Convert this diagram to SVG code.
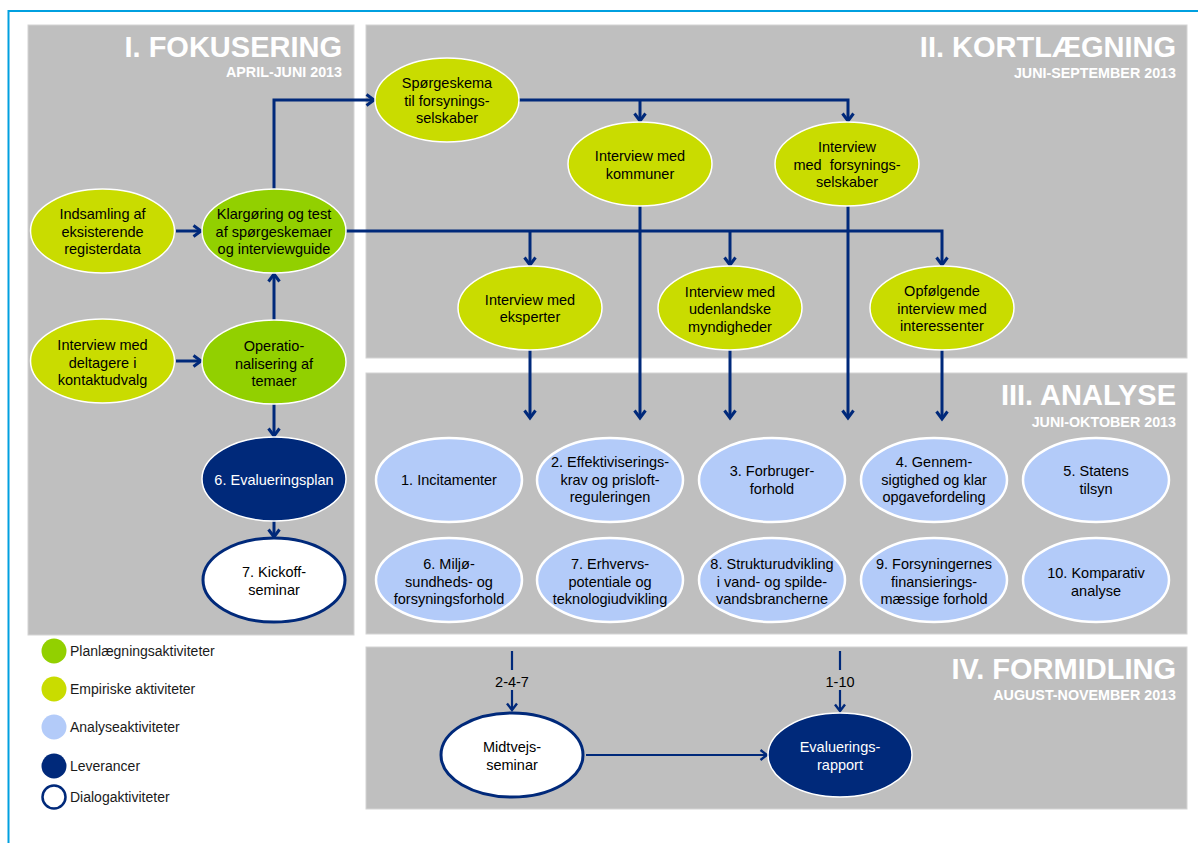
<svg xmlns="http://www.w3.org/2000/svg" width="1198" height="843" viewBox="0 0 1198 843">
<style>
text{font-family:"Liberation Sans",Arial,sans-serif}
.panel{fill:#bfbfbf;stroke:#d4d4d4;stroke-width:1}
.title{font-size:29px;font-weight:bold;fill:#fff;text-anchor:end}
.sub{font-size:14.3px;font-weight:bold;fill:#fff;text-anchor:end}
.t{font-size:14.5px;text-anchor:middle;fill:#000}
.w{fill:#fff}
.lg{font-size:14px;fill:#1a1a1a}
.emp{fill:#c9dc00;stroke:#fff;stroke-width:1.5}
.plan{fill:#92d000;stroke:#fff;stroke-width:1.5}
.ana{fill:#b3cbf9;stroke:#fff;stroke-width:2.5}
.lev{fill:#00297a;stroke:#fff;stroke-width:1.5}
.dia{fill:#fff;stroke:#00297a;stroke-width:3}
.conn{fill:none;stroke:#00297a;stroke-width:3}
.thin{fill:none;stroke:#00297a;stroke-width:2.2}
</style>
<defs>
<marker id="ah" markerUnits="userSpaceOnUse" markerWidth="14" markerHeight="14" viewBox="0 0 14 14" refX="11.5" refY="7" orient="auto">
<path d="M4,1.5 L11.5,7 L4,12.5" fill="none" stroke="#00297a" stroke-width="3"/>
</marker>
<marker id="ah2" markerUnits="userSpaceOnUse" markerWidth="14" markerHeight="14" viewBox="0 0 14 14" refX="11.5" refY="7" orient="auto">
<path d="M5,2 L11.5,7 L5,12" fill="none" stroke="#00297a" stroke-width="2.4"/>
</marker>
</defs>
<rect x="0" y="0" width="1198" height="843" fill="#fff"/>
<path d="M8.5,843 V11 H1198" fill="none" stroke="#00a0e0" stroke-width="2"/>

<g id="panels">
<rect class="panel" x="28" y="25" width="326" height="610"/>
<rect class="panel" x="366" y="25" width="821" height="333"/>
<rect class="panel" x="366" y="373" width="821" height="261"/>
<rect class="panel" x="366" y="647" width="821" height="162"/>
<text class="title" x="342" y="57">I. FOKUSERING</text>
<text class="sub" x="342" y="77">APRIL-JUNI 2013</text>
<text class="title" x="1176" y="57">II. KORTLÆGNING</text>
<text class="sub" x="1176" y="78">JUNI-SEPTEMBER 2013</text>
<text class="title" x="1176" y="405">III. ANALYSE</text>
<text class="sub" x="1176" y="427">JUNI-OKTOBER 2013</text>
<text class="title" x="1176" y="679">IV. FORMIDLING</text>
<text class="sub" x="1176" y="700">AUGUST-NOVEMBER 2013</text>
</g>

<g id="connectors">
<path class="conn" d="M176,231 H201" marker-end="url(#ah)"/>
<path class="conn" d="M274,189 V100 H374" marker-end="url(#ah)"/>
<path class="conn" d="M176,361 H201" marker-end="url(#ah)"/>
<path class="conn" d="M274,320 V274" marker-end="url(#ah)"/>
<path class="conn" d="M274,404 V436" marker-end="url(#ah)"/>
<path class="conn" d="M274,521 V537" marker-end="url(#ah)"/>
<path class="conn" d="M519,100 H848 V121" marker-end="url(#ah)"/>
<path class="conn" d="M640,100 V121" marker-end="url(#ah)"/>
<path class="conn" d="M346,231 H942 V265" marker-end="url(#ah)"/>
<path class="conn" d="M530,231 V265" marker-end="url(#ah)"/>
<path class="conn" d="M730,231 V265" marker-end="url(#ah)"/>
<path class="conn" d="M530,350 V418" marker-end="url(#ah)"/>
<path class="conn" d="M640,206 V418" marker-end="url(#ah)"/>
<path class="conn" d="M730,350 V418" marker-end="url(#ah)"/>
<path class="conn" d="M848,206 V418" marker-end="url(#ah)"/>
<path class="conn" d="M942,350 V419" marker-end="url(#ah)"/>
<path class="thin" d="M512,651 V670"/>
<path class="thin" d="M512,690 V710" marker-end="url(#ah2)"/>
<path class="thin" d="M840,651 V670"/>
<path class="thin" d="M840,690 V711" marker-end="url(#ah2)"/>
<path class="thin" d="M586,755 H767" marker-end="url(#ah2)"/>
<text class="t" x="512" y="687" font-size="14">2-4-7</text>
<text class="t" x="840" y="687" font-size="14">1-10</text>
</g>

<g id="n-indsamling"><ellipse class="emp" cx="102.5" cy="231" rx="72" ry="42"/>
<text class="t" x="102.5" y="219">Indsamling af</text><text class="t" x="102.5" y="236.5">eksisterende</text><text class="t" x="102.5" y="254">registerdata</text></g>
<g id="n-klargoring"><ellipse class="plan" cx="274" cy="231" rx="72" ry="42"/>
<text class="t" x="274" y="219">Klargøring og test</text><text class="t" x="274" y="236.5">af spørgeskemaer</text><text class="t" x="274" y="254">og interviewguide</text></g>
<g id="n-deltagere"><ellipse class="emp" cx="102.5" cy="361" rx="72" ry="42"/>
<text class="t" x="102.5" y="350">Interview med</text><text class="t" x="102.5" y="367.5">deltagere i</text><text class="t" x="102.5" y="385">kontaktudvalg</text></g>
<g id="n-operationalisering"><ellipse class="plan" cx="274" cy="362" rx="72" ry="42"/>
<text class="t" x="274" y="351">Operatio-</text><text class="t" x="274" y="368.5">nalisering af</text><text class="t" x="274" y="386">temaer</text></g>
<g id="n-evalueringsplan"><ellipse class="lev" cx="274" cy="479" rx="72" ry="42"/>
<text class="t w" x="274" y="484.5">6. Evalueringsplan</text></g>
<g id="n-kickoff"><ellipse class="dia" cx="274" cy="580" rx="71" ry="42"/>
<text class="t" x="274" y="577">7. Kickoff-</text><text class="t" x="274" y="595">seminar</text></g>

<g id="n-sporgeskema"><ellipse class="emp" cx="447" cy="100" rx="72" ry="42"/>
<text class="t" x="447" y="88">Spørgeskema</text><text class="t" x="447" y="105.5">til forsynings-</text><text class="t" x="447" y="123">selskaber</text></g>
<g id="n-kommuner"><ellipse class="emp" cx="640" cy="164" rx="72" ry="42"/>
<text class="t" x="640" y="161">Interview med</text><text class="t" x="640" y="179">kommuner</text></g>
<g id="n-forsyningsselskaber"><ellipse class="emp" cx="847" cy="164" rx="72" ry="42"/>
<text class="t" x="847" y="152">Interview</text><text class="t" x="847" y="169.5" xml:space="preserve">med  forsynings-</text><text class="t" x="847" y="187">selskaber</text></g>
<g id="n-eksperter"><ellipse class="emp" cx="530" cy="308" rx="72" ry="42"/>
<text class="t" x="530" y="305">Interview med</text><text class="t" x="530" y="322">eksperter</text></g>
<g id="n-udenlandske"><ellipse class="emp" cx="730" cy="308" rx="72" ry="42"/>
<text class="t" x="730" y="296.5">Interview med</text><text class="t" x="730" y="314">udenlandske</text><text class="t" x="730" y="331.5">myndigheder</text></g>
<g id="n-opfolgende"><ellipse class="emp" cx="942" cy="308" rx="72" ry="42"/>
<text class="t" x="942" y="296">Opfølgende</text><text class="t" x="942" y="313.5">interview med</text><text class="t" x="942" y="331">interessenter</text></g>

<g id="n-a1"><ellipse class="ana" cx="449" cy="480" rx="73" ry="42"/>
<text class="t" x="449" y="485">1. Incitamenter</text></g>
<g id="n-a2"><ellipse class="ana" cx="610" cy="480" rx="73" ry="42"/>
<text class="t" x="610" y="467">2. Effektiviserings-</text><text class="t" x="610" y="484.5">krav og prisloft-</text><text class="t" x="610" y="502">reguleringen</text></g>
<g id="n-a3"><ellipse class="ana" cx="772" cy="480" rx="73" ry="42"/>
<text class="t" x="772" y="476">3. Forbruger-</text><text class="t" x="772" y="494">forhold</text></g>
<g id="n-a4"><ellipse class="ana" cx="934" cy="480" rx="73" ry="42"/>
<text class="t" x="934" y="467">4. Gennem-</text><text class="t" x="934" y="484.5">sigtighed og klar</text><text class="t" x="934" y="502">opgavefordeling</text></g>
<g id="n-a5"><ellipse class="ana" cx="1096" cy="480" rx="73" ry="42"/>
<text class="t" x="1096" y="476">5. Statens</text><text class="t" x="1096" y="494">tilsyn</text></g>
<g id="n-a6"><ellipse class="ana" cx="449" cy="580" rx="73" ry="42"/>
<text class="t" x="449" y="569">6. Miljø-</text><text class="t" x="449" y="586.5">sundheds- og</text><text class="t" x="449" y="604">forsyningsforhold</text></g>
<g id="n-a7"><ellipse class="ana" cx="610" cy="580" rx="73" ry="42"/>
<text class="t" x="610" y="569">7. Erhvervs-</text><text class="t" x="610" y="586.5">potentiale og</text><text class="t" x="610" y="604">teknologiudvikling</text></g>
<g id="n-a8"><ellipse class="ana" cx="772" cy="580" rx="73" ry="42"/>
<text class="t" x="772" y="569">8. Strukturudvikling</text><text class="t" x="772" y="586.5">i vand- og spilde-</text><text class="t" x="772" y="604">vandsbrancherne</text></g>
<g id="n-a9"><ellipse class="ana" cx="934" cy="580" rx="73" ry="42"/>
<text class="t" x="934" y="569">9. Forsyningernes</text><text class="t" x="934" y="586.5">finansierings-</text><text class="t" x="934" y="604">mæssige forhold</text></g>
<g id="n-a10"><ellipse class="ana" cx="1096" cy="580" rx="73" ry="42"/>
<text class="t" x="1096" y="578">10. Komparativ</text><text class="t" x="1096" y="596">analyse</text></g>

<g id="n-midtvejs"><ellipse class="dia" cx="512" cy="755" rx="71" ry="42"/>
<text class="t" x="512" y="752">Midtvejs-</text><text class="t" x="512" y="770">seminar</text></g>
<g id="n-evalueringsrapport"><ellipse class="lev" cx="840" cy="755" rx="72" ry="42"/>
<text class="t w" x="840" y="752">Evaluerings-</text><text class="t w" x="840" y="770">rapport</text></g>

<g id="legend">
<circle cx="54" cy="651" r="12.5" fill="#92d000"/>
<text class="lg" x="70" y="656">Planlægningsaktiviteter</text>
<circle cx="54" cy="689" r="12.5" fill="#c9dc00"/>
<text class="lg" x="70" y="694">Empiriske aktiviteter</text>
<circle cx="54" cy="727" r="12.5" fill="#b3cbf9"/>
<text class="lg" x="70" y="732">Analyseaktiviteter</text>
<circle cx="54" cy="766" r="12.5" fill="#00297a"/>
<text class="lg" x="70" y="771">Leverancer</text>
<circle cx="54" cy="797" r="11.5" fill="#fff" stroke="#00297a" stroke-width="2.5"/>
<text class="lg" x="70" y="802">Dialogaktiviteter</text>
</g>
</svg>
